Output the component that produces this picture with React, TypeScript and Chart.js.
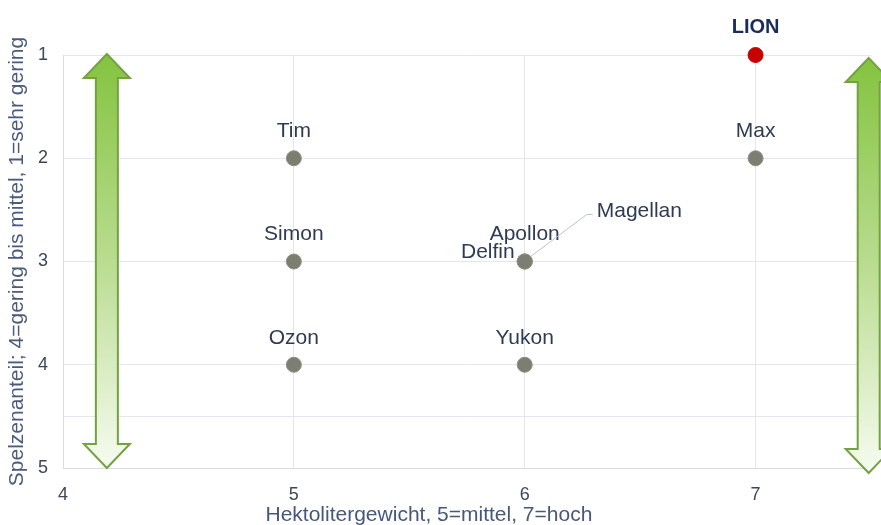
import React, { useEffect, useRef } from 'react';
import { Chart, registerables } from 'chart.js';

Chart.register(...registerables);

// ---- data ----
const varieties = ['LION', 'Tim', 'Max', 'Simon', 'Apollon', 'Delfin', 'Magellan', 'Ozon', 'Yukon'];
const hektolitergewicht = [7, 5, 7, 5, 6, 6, 6, 5, 6];
const spelzenanteil = [1, 2, 2, 3, 3, 3, 3, 4, 4];
const xTicks = [4, 5, 6, 7];
const yTicks = [1, 2, 3, 4, 4.5, 5];
const yTickLabels = ['1', '2', '3', '4', '', '5'];
const xTitle = 'Hektolitergewicht, 5=mittel, 7=hoch';
const yTitle = 'Spelzenanteil; 4=gering bis mittel, 1=sehr gering';
const highlighted = 'LION';

// ---- label styling / placement ----
type Placement = { dx: number; dy: number; align: CanvasTextAlign; leader?: boolean };
const labelPlacement: Record<string, Placement> = {
  LION: { dx: 0, dy: -28, align: 'center' },
  Tim: { dx: 0, dy: -27, align: 'center' },
  Max: { dx: 0, dy: -27, align: 'center' },
  Simon: { dx: 0, dy: -27, align: 'center' },
  Apollon: { dx: 0, dy: -27, align: 'center' },
  Delfin: { dx: -10, dy: -9, align: 'right' },
  Magellan: { dx: 72, dy: -50, align: 'left', leader: true },
  Ozon: { dx: 0, dy: -27, align: 'center' },
  Yukon: { dx: 0, dy: -27, align: 'center' },
};

const FONT = '"Liberation Sans", Arial, Helvetica, sans-serif';

function drawArrow(ctx: CanvasRenderingContext2D, cx: number, top: number, bottom: number) {
  const shaft = 11;
  const head = 23;
  const hh = 24;
  const g = ctx.createLinearGradient(0, top, 0, bottom);
  g.addColorStop(0, '#84c33f');
  g.addColorStop(0.5, '#b9dc90');
  g.addColorStop(1, '#f6fbf0');
  ctx.save();
  ctx.beginPath();
  ctx.moveTo(cx, top);
  ctx.lineTo(cx + head, top + hh);
  ctx.lineTo(cx + shaft, top + hh);
  ctx.lineTo(cx + shaft, bottom - hh);
  ctx.lineTo(cx + head, bottom - hh);
  ctx.lineTo(cx, bottom);
  ctx.lineTo(cx - head, bottom - hh);
  ctx.lineTo(cx - shaft, bottom - hh);
  ctx.lineTo(cx - shaft, top + hh);
  ctx.lineTo(cx - head, top + hh);
  ctx.closePath();
  ctx.fillStyle = g;
  ctx.fill();
  ctx.lineWidth = 2;
  ctx.strokeStyle = '#74a142';
  ctx.lineJoin = 'miter';
  ctx.stroke();
  ctx.restore();
}

const arrowsPlugin = {
  id: 'arrows',
  beforeDatasetsDraw(chart: any) {
    const { ctx, scales } = chart;
    const x = scales.x;
    const y = scales.y;
    drawArrow(ctx, x.getPixelForValue(4.19), y.getPixelForValue(1) - 1, y.getPixelForValue(5));
    drawArrow(ctx, x.getPixelForValue(7.49), y.getPixelForValue(1) + 3, y.getPixelForValue(5) + 5);
  },
};

const xTitlePlugin = {
  id: 'xTitle',
  afterDraw(chart: any) {
    const { ctx, scales } = chart;
    ctx.save();
    ctx.font = `21px ${FONT}`;
    ctx.fillStyle = '#47587a';
    ctx.textAlign = 'center';
    ctx.textBaseline = 'middle';
    ctx.fillText(xTitle, scales.x.getPixelForValue(5.585), scales.x.bottom - 10);
    ctx.restore();
  },
};

const labelsPlugin = {
  id: 'pointLabels',
  afterDatasetsDraw(chart: any) {
    const { ctx } = chart;
    const meta = chart.getDatasetMeta(0);
    ctx.save();
    ctx.textBaseline = 'middle';
    meta.data.forEach((el: any, i: number) => {
      const name = varieties[i];
      const p = labelPlacement[name];
      const lx = el.x + p.dx;
      const ly = el.y + p.dy;
      if (p.leader) {
        ctx.beginPath();
        ctx.strokeStyle = '#b9c4cf';
        ctx.lineWidth = 1;
        ctx.moveTo(el.x + 6, el.y - 5);
        ctx.lineTo(lx - 10, ly + 3);
        ctx.lineTo(lx - 4, ly + 3);
        ctx.stroke();
      }
      if (name === highlighted) {
        ctx.font = `bold 20px ${FONT}`;
        ctx.fillStyle = '#1b2c5c';
      } else {
        ctx.font = `21px ${FONT}`;
        ctx.fillStyle = '#2f3b52';
      }
      ctx.textAlign = p.align;
      ctx.fillText(name, lx, ly);
    });
    ctx.restore();
  },
};

export default function App() {
  const ref = useRef<HTMLCanvasElement | null>(null);

  useEffect(() => {
    if (!ref.current) return;
    const points = varieties.map((_, i) => ({ x: hektolitergewicht[i], y: spelzenanteil[i] }));
    const chart = new Chart(ref.current, {
      type: 'scatter',
      data: {
        datasets: [
          {
            label: 'Sorten',
            data: points,
            clip: false,
            pointRadius: 7.5,
            pointHoverRadius: 7.5,
            pointBackgroundColor: varieties.map((v) => (v === highlighted ? '#c80000' : '#7b7e70')),
            pointBorderColor: varieties.map((v) => (v === highlighted ? '#c80000' : '#8e9182')),
            pointBorderWidth: 1,
          },
        ],
      },
      options: {
        animation: false,
        responsive: true,
        maintainAspectRatio: false,
        layout: { padding: { top: 55, right: 10, bottom: 0, left: 0 } },
        plugins: {
          legend: { display: false },
          tooltip: { enabled: false },
        },
        scales: {
          x: {
            type: 'linear',
            min: 4,
            max: 7.5,
            afterBuildTicks: (scale: any) => {
              scale.ticks = xTicks.map((v) => ({ value: v }));
            },
            afterFit: (scale: any) => {
              scale.height = 57;
            },
            ticks: {
              padding: 16,
              color: '#3f4756',
              font: { family: FONT, size: 18 },
              callback: (v: any) => String(v),
            },
            grid: { color: '#e3e6ea', drawTicks: false },
            border: { color: '#dadde2' },
            title: { display: false },
          },
          y: {
            type: 'linear',
            min: 1,
            max: 5,
            reverse: true,
            afterBuildTicks: (scale: any) => {
              scale.ticks = yTicks.map((v) => ({ value: v }));
            },
            afterFit: (scale: any) => {
              scale.width = 63;
            },
            ticks: {
              padding: 15,
              color: '#3f4756',
              font: { family: FONT, size: 18 },
              callback: (v: any) => {
                const idx = yTicks.indexOf(Number(v));
                return idx >= 0 ? yTickLabels[idx] : '';
              },
            },
            grid: { color: '#e3e6ea', drawTicks: false },
            border: { color: '#dadde2' },
            title: {
              display: true,
              text: yTitle,
              color: '#4b5b7c',
              font: { family: FONT, size: 21 },
              padding: { top: 5, bottom: 0 },
            },
          },
        },
      },
      plugins: [arrowsPlugin, labelsPlugin, xTitlePlugin],
    });
    return () => chart.destroy();
  }, []);

  return (
    <div style={{ position: 'absolute', left: 0, top: 0, width: 881, height: 525, background: '#ffffff' }}>
      <canvas ref={ref} />
    </div>
  );
}
